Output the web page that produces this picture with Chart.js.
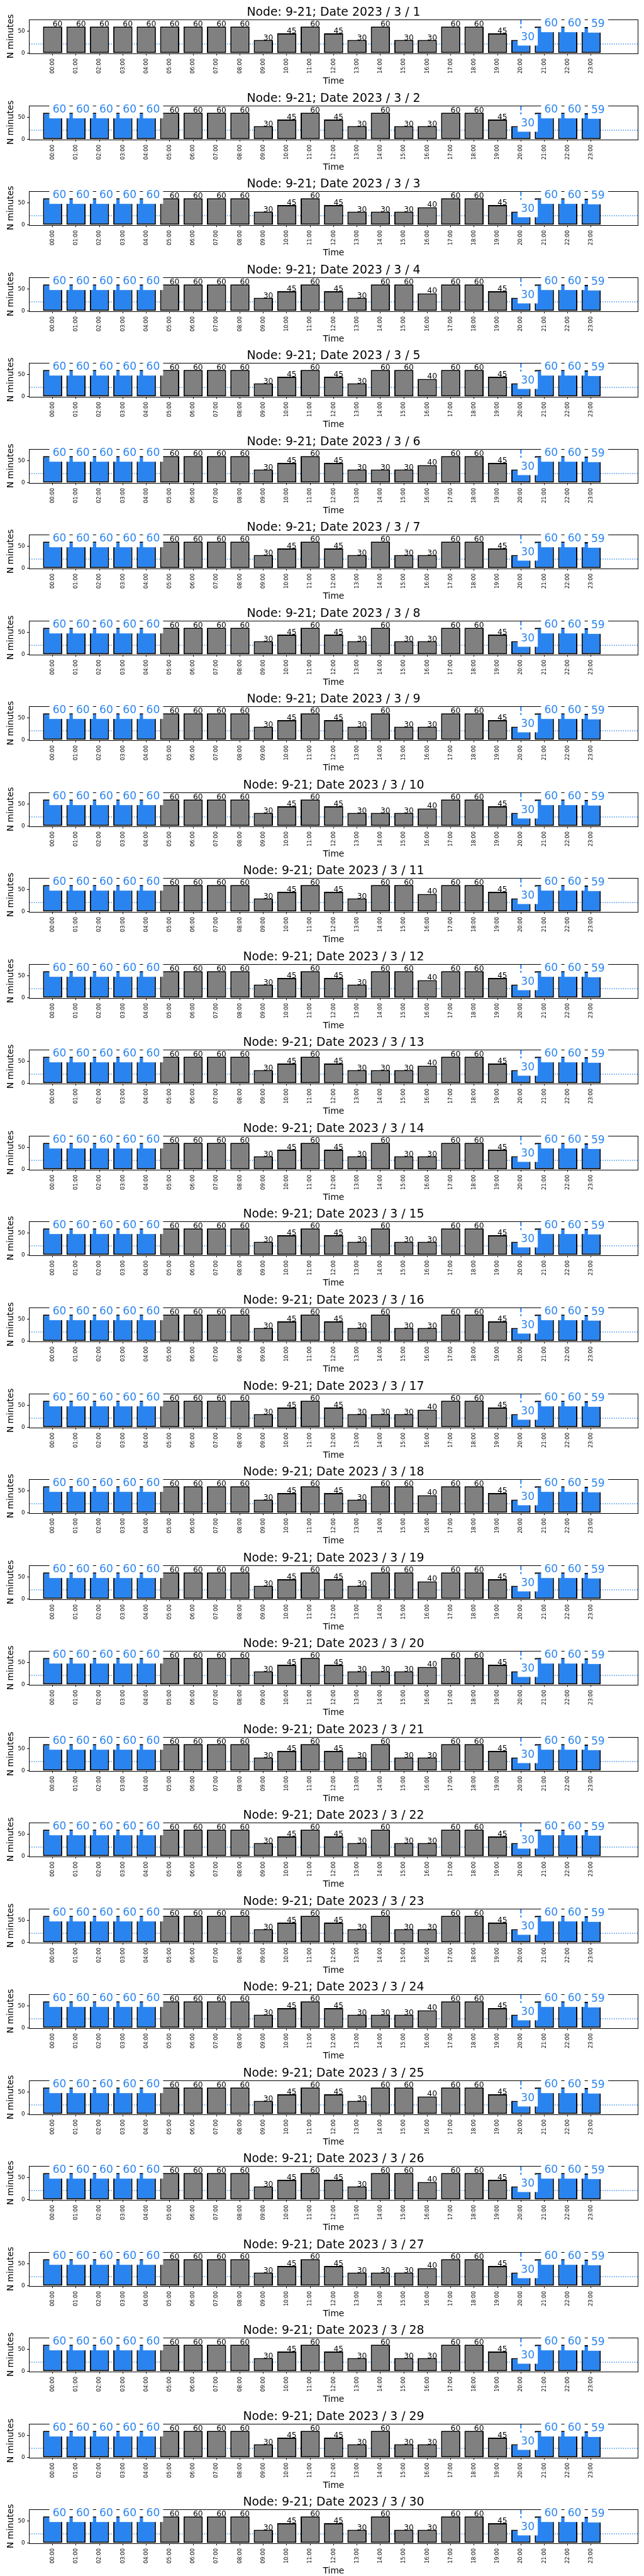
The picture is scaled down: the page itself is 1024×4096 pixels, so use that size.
<!DOCTYPE html>
<html>
<head>
<meta charset="utf-8">
<script src="https://cdn.jsdelivr.net/npm/chart.js@4/dist/chart.umd.min.js"></script>
<style>
html, body { margin: 0; padding: 0; background: #fff; }
#wrap { position: relative; width: 1024px; height: 4096px; overflow: hidden; }
#wrap canvas { position: absolute; left: 0; }
</style>
</head>
<body>
<div id="wrap"></div>
<script>
// data
const nodeName = '9-21';
const hours = [0, 1, 2, 3, 4, 5, 6, 7, 8, 9, 10, 11, 12, 13, 14, 15, 16, 17, 18, 19, 20, 21, 22, 23];
const hourLabels = ['00:00', '01:00', '02:00', '03:00', '04:00', '05:00', '06:00', '07:00', '08:00', '09:00', '10:00', '11:00',
                    '12:00', '13:00', '14:00', '15:00', '16:00', '17:00', '18:00', '19:00', '20:00', '21:00', '22:00', '23:00'];
const dayNumbers = [1, 2, 3, 4, 5, 6, 7, 8, 9, 10, 11, 12, 13, 14, 15, 16, 17, 18, 19, 20, 21, 22, 23, 24, 25, 26, 27, 28, 29, 30];
const minutesByDay = [
    [60,60,60,60,60,60,60,60,60,30,45,60,45,30,60,30,30,60,60,45,30,60,60,59], // 1
    [60,60,60,60,60,60,60,60,60,30,45,60,45,30,60,30,30,60,60,45,30,60,60,59], // 2
    [60,60,60,60,60,60,60,60,60,30,45,60,45,30,30,30,40,60,60,45,30,60,60,59], // 3
    [60,60,60,60,60,60,60,60,60,30,45,60,45,30,60,60,40,60,60,45,30,60,60,59], // 4
    [60,60,60,60,60,60,60,60,60,30,45,60,45,30,60,60,40,60,60,45,30,60,60,59], // 5
    [60,60,60,60,60,60,60,60,60,30,45,60,45,30,30,30,40,60,60,45,30,60,60,59], // 6
    [60,60,60,60,60,60,60,60,60,30,45,60,45,30,60,30,30,60,60,45,30,60,60,59], // 7
    [60,60,60,60,60,60,60,60,60,30,45,60,45,30,60,30,30,60,60,45,30,60,60,59], // 8
    [60,60,60,60,60,60,60,60,60,30,45,60,45,30,60,30,30,60,60,45,30,60,60,59], // 9
    [60,60,60,60,60,60,60,60,60,30,45,60,45,30,30,30,40,60,60,45,30,60,60,59], // 10
    [60,60,60,60,60,60,60,60,60,30,45,60,45,30,60,60,40,60,60,45,30,60,60,59], // 11
    [60,60,60,60,60,60,60,60,60,30,45,60,45,30,60,60,40,60,60,45,30,60,60,59], // 12
    [60,60,60,60,60,60,60,60,60,30,45,60,45,30,30,30,40,60,60,45,30,60,60,59], // 13
    [60,60,60,60,60,60,60,60,60,30,45,60,45,30,60,30,30,60,60,45,30,60,60,59], // 14
    [60,60,60,60,60,60,60,60,60,30,45,60,45,30,60,30,30,60,60,45,30,60,60,59], // 15
    [60,60,60,60,60,60,60,60,60,30,45,60,45,30,60,30,30,60,60,45,30,60,60,59], // 16
    [60,60,60,60,60,60,60,60,60,30,45,60,45,30,30,30,40,60,60,45,30,60,60,59], // 17
    [60,60,60,60,60,60,60,60,60,30,45,60,45,30,60,60,40,60,60,45,30,60,60,59], // 18
    [60,60,60,60,60,60,60,60,60,30,45,60,45,30,60,60,40,60,60,45,30,60,60,59], // 19
    [60,60,60,60,60,60,60,60,60,30,45,60,45,30,30,30,40,60,60,45,30,60,60,59], // 20
    [60,60,60,60,60,60,60,60,60,30,45,60,45,30,60,30,30,60,60,45,30,60,60,59], // 21
    [60,60,60,60,60,60,60,60,60,30,45,60,45,30,60,30,30,60,60,45,30,60,60,59], // 22
    [60,60,60,60,60,60,60,60,60,30,45,60,45,30,60,30,30,60,60,45,30,60,60,59], // 23
    [60,60,60,60,60,60,60,60,60,30,45,60,45,30,30,30,40,60,60,45,30,60,60,59], // 24
    [60,60,60,60,60,60,60,60,60,30,45,60,45,30,60,60,40,60,60,45,30,60,60,59], // 25
    [60,60,60,60,60,60,60,60,60,30,45,60,45,30,60,60,40,60,60,45,30,60,60,59], // 26
    [60,60,60,60,60,60,60,60,60,30,45,60,45,30,30,30,40,60,60,45,30,60,60,59], // 27
    [60,60,60,60,60,60,60,60,60,30,45,60,45,30,60,30,30,60,60,45,30,60,60,59], // 28
    [60,60,60,60,60,60,60,60,60,30,45,60,45,30,60,30,30,60,60,45,30,60,60,59], // 29
    [60,60,60,60,60,60,60,60,60,30,45,60,45,30,60,30,30,60,60,45,30,60,60,59]  // 30
];
const blueHoursFirstDay = [20, 21, 22, 23];
const blueHoursOtherDays = [0, 1, 2, 3, 4, 20, 21, 22, 23];
const refLineValue = 21;
const markerHour = 20;
const yTickValues = [0, 50];
const xMin = -1, xMax = 25, yMax = 76;

// drawing setup
const S = 1024 / 1500;
const GREY = '#808080';
const BLUE = '#2a84f0';
const FONT = "'DejaVu Sans', sans-serif";
const PANEL_H = 137;

function px(v){ return v * S; }

const decor = {
    id: 'decor',
    beforeDatasetsDraw(chart) {
        const {ctx, chartArea: a, scales: {x, y}} = chart;
        ctx.save();
        ctx.beginPath();
        ctx.rect(a.left, a.top, a.right - a.left, a.bottom - a.top);
        ctx.clip();
        ctx.strokeStyle = BLUE;
        // dotted horizontal line
        const yy = y.getPixelForValue(refLineValue);
        ctx.lineWidth = px(2);
        ctx.setLineDash([px(2), px(3.3)]);
        ctx.beginPath();
        ctx.moveTo(a.left, yy);
        ctx.lineTo(a.right, yy);
        ctx.stroke();
        // dashed vertical line
        const xx = x.getPixelForValue(markerHour);
        ctx.lineWidth = px(3);
        ctx.setLineDash([px(11.1), px(4.8)]);
        ctx.beginPath();
        ctx.moveTo(xx, a.top);
        ctx.lineTo(xx, a.bottom);
        ctx.stroke();
        ctx.restore();
    },
    afterDatasetsDraw(chart) {
        const {ctx, chartArea: a, scales: {x, y}} = chart;
        const ds = chart.data.datasets[0];
        ctx.save();
        // frame
        ctx.strokeStyle = '#000';
        ctx.lineWidth = 1;
        ctx.strokeRect(Math.round(a.left) + 0.5, Math.round(a.top) + 0.5,
                       Math.round(a.right) - Math.round(a.left), Math.round(a.bottom) - Math.round(a.top));
        // value labels
        ctx.textAlign = 'left';
        ctx.textBaseline = 'alphabetic';
        ds.data.forEach(pt => {
            const txt = String(pt.y);
            const bx = x.getPixelForValue(pt.x);
            const by = y.getPixelForValue(pt.y);
            if (ds.blueHours.includes(pt.x)) {
                ctx.font = px(25) + 'px ' + FONT;
                const w = ctx.measureText(txt).width;
                ctx.fillStyle = '#fff';
                ctx.fillRect(bx - px(7.5), by - px(27.5), w + px(15), px(27.5 + 13));
                ctx.fillStyle = BLUE;
                ctx.fillText(txt, bx, by);
            } else {
                ctx.font = px(18) + 'px ' + FONT;
                ctx.fillStyle = '#000';
                ctx.fillText(txt, bx, by);
            }
        });
        ctx.restore();
    },
    afterDraw(chart) {
        const {ctx, chartArea: a} = chart;
        const cx = (a.left + a.right) / 2;
        ctx.save();
        ctx.fillStyle = '#000';
        ctx.textAlign = 'center';
        ctx.textBaseline = 'alphabetic';
        ctx.font = px(27.6) + 'px ' + FONT;
        ctx.fillText(chart.options.plugins.decor.title, cx, px(37.3));
        ctx.font = px(20.2) + 'px ' + FONT;
        ctx.fillText('Time', cx, px(195));
        ctx.translate(px(31), (a.top + a.bottom) / 2);
        ctx.rotate(-Math.PI / 2);
        ctx.fillText('N minutes', 0, 0);
        ctx.restore();
    }
};

function makePanel(idx) {
    const values = minutesByDay[idx];
    const blueHours = idx === 0 ? blueHoursFirstDay : blueHoursOtherDays;
    const canvas = document.createElement('canvas');
    canvas.width = 1024;
    canvas.height = PANEL_H;
    canvas.style.top = Math.round(idx * 200 * S) + 'px';
    document.getElementById('wrap').appendChild(canvas);

    const chartBottom = px(124.3);
    new Chart(canvas, {
        type: 'bar',
        data: {
            datasets: [{
                data: hours.map((h, i) => ({x: h, y: values[i]})),
                blueHours: blueHours,
                backgroundColor: hours.map(h => blueHours.includes(h) ? BLUE : GREY),
                borderColor: '#000',
                borderWidth: px(3),
                borderSkipped: false,
                barPercentage: 0.82,
                categoryPercentage: 1
            }]
        },
        options: {
            responsive: false,
            animation: false,
            events: [],
            layout: {padding: {top: px(45.3), left: 0, right: 1024 - px(1486), bottom: 0}},
            plugins: {
                legend: {display: false},
                tooltip: {enabled: false},
                decor: {title: 'Node: ' + nodeName + '; Date 2023 / 3 / ' + dayNumbers[idx]}
            },
            scales: {
                x: {
                    type: 'linear',
                    min: xMin,
                    max: xMax,
                    offset: false,
                    grid: {offset: false, drawOnChartArea: false, drawTicks: true, tickLength: px(4.9), color: '#000', lineWidth: 1},
                    border: {display: false},
                    afterBuildTicks: s => { s.ticks = hours.map(h => ({value: h})); },
                    afterFit: s => { s.height = PANEL_H - chartBottom; },
                    ticks: {
                        autoSkip: false,
                        minRotation: 90,
                        maxRotation: 90,
                        padding: px(7),
                        color: '#000',
                        font: {family: FONT, size: px(12.3)},
                        callback: v => hourLabels[hours.indexOf(v)]
                    }
                },
                y: {
                    min: 0,
                    max: yMax,
                    grid: {drawOnChartArea: false, drawTicks: true, tickLength: px(4.9), color: '#000', lineWidth: 1},
                    border: {display: false},
                    afterBuildTicks: s => { s.ticks = yTickValues.map(v => ({value: v})); },
                    afterFit: s => { s.width = px(68); },
                    ticks: {
                        padding: px(4.9),
                        color: '#000',
                        font: {family: FONT, size: px(13)}
                    }
                }
            }
        },
        plugins: [decor]
    });
}

window.onload = function() {
    dayNumbers.forEach((d, i) => makePanel(i));
};
</script>
</body>
</html>
